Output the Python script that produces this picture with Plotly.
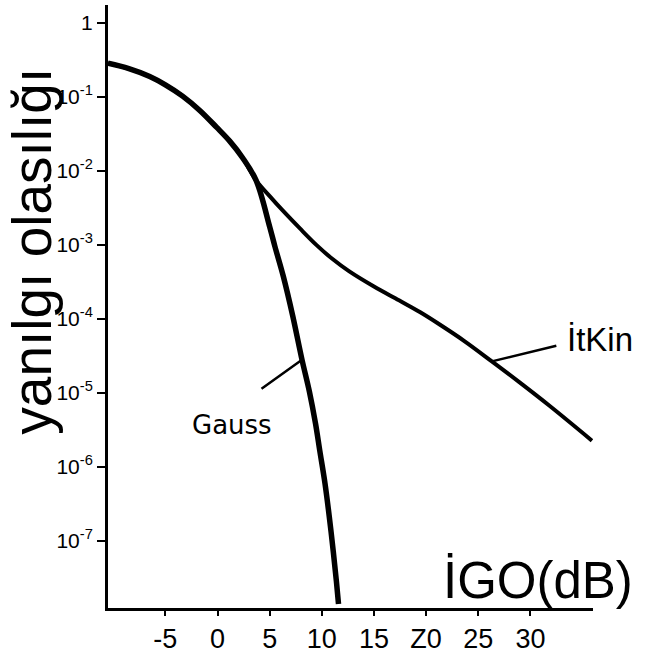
import math
import plotly.graph_objects as go

# Error probability versus İGO (dB): common high-probability branch, then the
# Gaussian-noise and impulsive-noise ("İtKin") branches diverge.
shared_db = [-10.5, -8.5, -6.5, -5.0, -3.35, -1.7, -0.1, 1.15, 2.4, 3.7]
shared_p = [0.284, 0.240, 0.188, 0.145, 0.102, 0.0653, 0.0388, 0.0253, 0.0150, 0.0074]

gauss_tail_db = [5.0, 5.5, 6.3, 7.2, 8.1, 8.8, 9.4, 9.8, 10.3, 10.7, 11.1, 11.4, 11.6]
gauss_tail_p = [1.75e-3, 9.5e-4, 3.78e-4, 1.11e-4, 2.79e-5, 1.05e-5, 3.8e-6, 1.66e-6,
                6.0e-7, 2.2e-7, 7.1e-8, 2.8e-8, 1.39e-8]

itkin_tail_db = [5.0, 6.2, 7.9, 9.5, 11.0, 12.6, 15.0, 17.4, 19.4, 21.3, 23.7, 26.3,
                 28.9, 31.8, 35.9]
itkin_tail_p = [4.54e-3, 2.95e-3, 1.66e-3, 9.88e-4, 6.45e-4, 4.39e-4, 2.72e-4, 1.77e-4,
                1.23e-4, 8.34e-5, 4.95e-5, 2.65e-5, 1.40e-5, 6.71e-6, 2.25e-6]

x_tickvals = [-5, 0, 5, 10, 15, 20, 25, 30]
x_ticktext = ["-5", "0", "5", "10", "15", "Z0", "25", "30"]
y_tickvals = [1, 1e-1, 1e-2, 1e-3, 1e-4, 1e-5, 1e-6, 1e-7]
y_ticktext = ["1"] + [f"10<sup>-{k}</sup>" for k in range(1, 8)]

gauss_db = shared_db + gauss_tail_db
gauss_p = shared_p + gauss_tail_p
itkin_db = shared_db + itkin_tail_db
itkin_p = shared_p + itkin_tail_p

fig = go.Figure()
fig.add_trace(go.Scatter(
    x=itkin_db, y=itkin_p, mode="lines", name="İtKin",
    line=dict(color="black", width=4, shape="spline", smoothing=1.0),
))
fig.add_trace(go.Scatter(
    x=gauss_db, y=gauss_p, mode="lines", name="Gauss",
    line=dict(color="black", width=5.5, shape="spline", smoothing=1.0),
))

# leader lines from each curve to its label
g_i = 4
k_i = 11
leaders = [
    dict(x=gauss_tail_db[g_i], y=math.log10(gauss_tail_p[g_i]), ax=-42, ay=30),
    dict(x=itkin_tail_db[k_i], y=math.log10(itkin_tail_p[k_i]), ax=66, ay=-16),
]
annotations = []
for ld in leaders:
    annotations.append(dict(
        x=ld["x"], y=ld["y"], xref="x", yref="y", text="",
        showarrow=True, arrowhead=0, arrowwidth=2.5, arrowcolor="black",
        ax=ld["ax"], ay=ld["ay"], axref="pixel", ayref="pixel",
    ))

annotations += [
    dict(text="Gauss", xref="paper", yref="paper", x=0.256, y=0.304,
         xanchor="center", yanchor="middle", showarrow=False,
         font=dict(family="DejaVu Sans", size=26, color="black")),
    dict(text="İtKin", xref="paper", yref="paper", x=1.015, y=0.446,
         xanchor="center", yanchor="middle", showarrow=False,
         font=dict(family="Liberation Sans", size=33, color="black")),
    dict(text="İGO(dB)", xref="paper", yref="paper", x=1.0866, y=0.045,
         xanchor="right", yanchor="middle", showarrow=False,
         font=dict(family="Liberation Sans", size=51, color="black")),
    dict(text="yanılgı olasılığı", xref="paper", yref="paper", x=-0.156, y=0.5915,
         xanchor="center", yanchor="middle", showarrow=False, textangle=-90,
         font=dict(family="Liberation Sans", size=55, color="black")),
]

fig.update_layout(
    width=645, height=659,
    margin=dict(l=108, r=52, t=5, b=42, pad=0),
    paper_bgcolor="white", plot_bgcolor="white",
    showlegend=False,
    annotations=annotations,
    xaxis=dict(
        range=[-10.5, 36], showgrid=False, zeroline=False,
        showline=True, linewidth=3, linecolor="black",
        ticks="outside", ticklen=5, tickwidth=2, tickcolor="black",
        tickvals=x_tickvals, ticktext=x_ticktext,
        tickfont=dict(family="Liberation Sans", size=27, color="black"),
    ),
    yaxis=dict(
        type="log", range=[-7.91, 0.24], showgrid=False, zeroline=False,
        showline=True, linewidth=3, linecolor="black",
        ticks="outside", ticklen=8, tickwidth=2, tickcolor="black",
        tickvals=y_tickvals, ticktext=y_ticktext,
        tickfont=dict(family="Liberation Sans", size=21, color="black"),
    ),
)

fig.write_html("out.html")
